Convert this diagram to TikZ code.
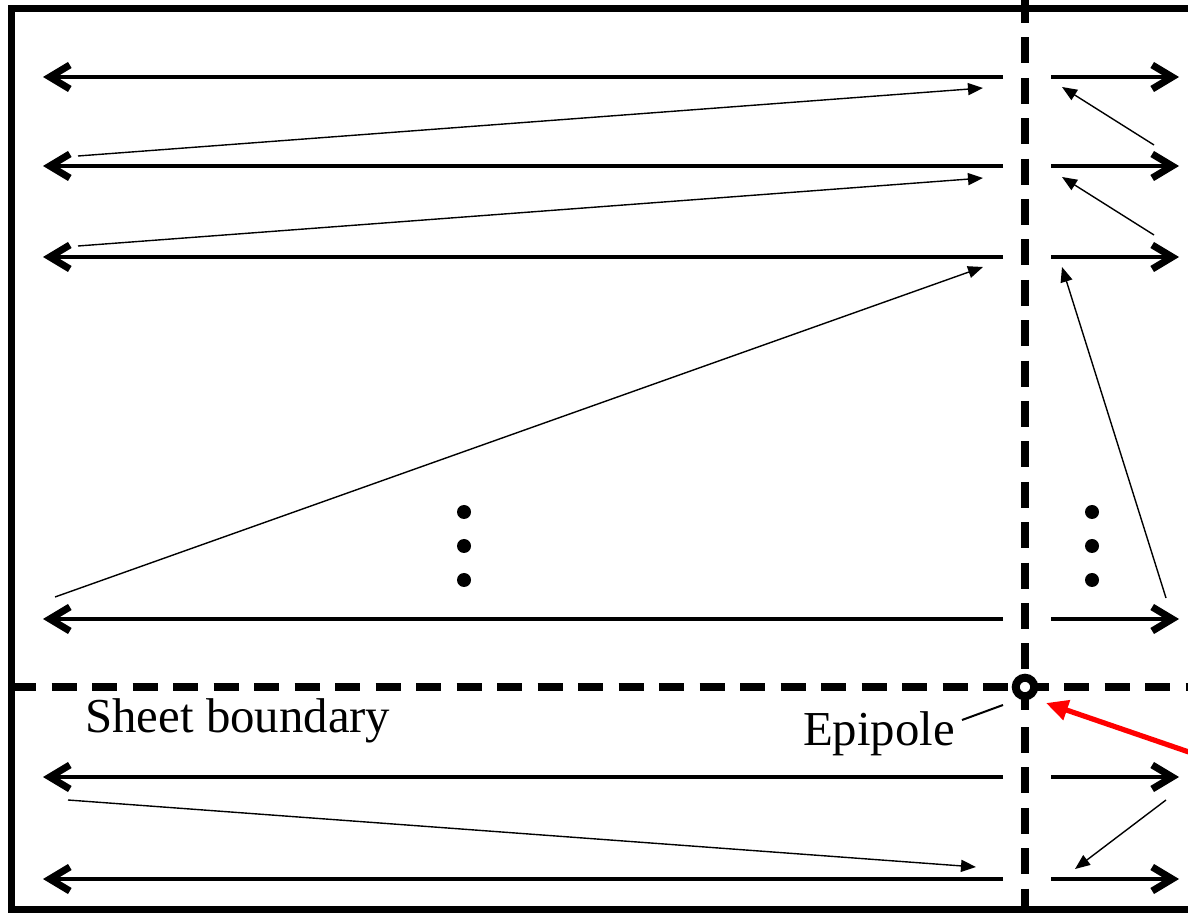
\documentclass[tikz,border=0pt]{standalone}
\usepackage{fontspec}
\setmainfont{Liberation Serif}
\usetikzlibrary{arrows.meta}
\tikzset{
  frameline/.style={line width=3.5pt},
  mainarrow/.style={line width=2pt,-{Straight Barb[length=10pt,width=12pt,line width=3.5pt]}},
  plainline/.style={line width=2pt},
  thinarrow/.style={line width=0.7pt,-{Triangle[length=7.5pt,width=6pt]}},
  vdash/.style={line width=4pt,dash pattern=on 13pt off 7.2pt},
  hdash/.style={line width=4pt,dash pattern=on 12.5pt off 7.75pt},
  redarrow/.style={draw=red,line width=2.6pt,-{Triangle[length=11pt,width=10pt]}},
  lbl/.style={inner sep=0pt,font=\fontsize{24.4}{29}\selectfont},
  dotmark/.style={circle,fill=black,inner sep=0pt,minimum size=7pt},
}
\begin{document}
\begin{tikzpicture}[x=0.5pt,y=-0.5pt]
\useasboundingbox (0,0) rectangle (1188,913);
\clip (0,0) rectangle (1188,913);
% frame
\draw[frameline] (11.5,9) rectangle (1260,909);
% dashed sheet boundaries
\coordinate (vtop) at (1025,-3);
\coordinate (vmid) at (1025,712);
\coordinate (vlow) at (1025,727);
\coordinate (vbot) at (1025,930);
\coordinate (hl) at (11,687);
\coordinate (hr) at (1260,687);
\draw[vdash] (vtop) -- (vmid);
\draw[vdash] (vlow) -- (vbot);
\draw[hdash] (hl) -- (hr);
\node (pole) [circle,draw,fill=white,line width=4pt,minimum size=9.25pt,inner sep=0pt] at (1025,687) {};
% horizontal scan lines
\foreach \yy [count=\i] in {77,166,257,619,777,879} {
  \coordinate (ls\i) at (1003,\yy);
  \coordinate (le\i) at (43,\yy);
  \coordinate (rs\i) at (1051,\yy);
  \coordinate (re\i) at (1179,\yy);
  \draw[mainarrow] (ls\i) -- (le\i);
  \draw[mainarrow] (rs\i) -- (re\i);
}
% thin return arrows, left part
\coordinate (a1) at (78,156);  \coordinate (b1) at (983,88);
\coordinate (a2) at (78,246);  \coordinate (b2) at (983,178);
\coordinate (a3) at (55,597);  \coordinate (b3) at (983,267);
\coordinate (a4) at (68,800);  \coordinate (b4) at (976,867);
\draw[thinarrow] (a1) -- (b1);
\draw[thinarrow] (a2) -- (b2);
\draw[thinarrow] (a3) -- (b3);
\draw[thinarrow] (a4) -- (b4);
% thin return arrows, right part
\coordinate (c1) at (1154,145); \coordinate (d1) at (1062,87);
\coordinate (c2) at (1154,235); \coordinate (d2) at (1062,177);
\coordinate (c3) at (1166,598); \coordinate (d3) at (1062,267);
\coordinate (c4) at (1166,800); \coordinate (d4) at (1075,869);
\draw[thinarrow] (c1) -- (d1);
\draw[thinarrow] (c2) -- (d2);
\draw[thinarrow] (c3) -- (d3);
\draw[thinarrow] (c4) -- (d4);
% ellipsis dots
\foreach \yy [count=\j] in {512,546,580} {
  \node[dotmark] (dl\j) at (464,\yy) {};
  \node[dotmark] (dr\j) at (1092,\yy) {};
}
% labels
\node[lbl,anchor=base west] (sheet) at (85,733) {Sheet boundary};
\node[lbl,anchor=base] (epi) at (879,745) {Epipole};
\coordinate (epiA) at (962,720);
\coordinate (epiB) at (1003,705);
\draw[line width=1pt] (epiA) -- (epiB);
% red arrow
\coordinate (redS) at (1250,773);
\coordinate (redT) at (1046,703);
\draw[redarrow] (redS) -- (redT);
\end{tikzpicture}
\end{document}
